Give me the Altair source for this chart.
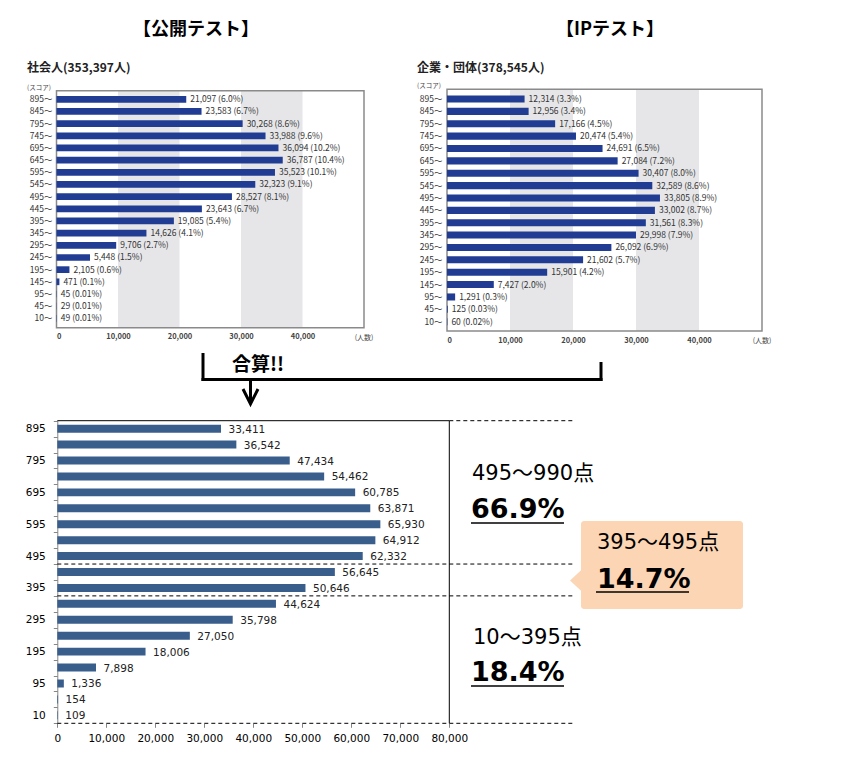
import json
import altair as alt
import pandas as pd

W, H = 830, 742


def px(v):
    # page pixel -> chart pixel (page has an 8px margin)
    return v - 8


JP = "Noto Sans CJK JP"
NUM = "DejaVu Sans"
ANN = "DejaVu Sans, Noto Sans CJK JP"

# ---------------- data ----------------
scores = ["895", "845", "795", "745", "695", "645", "595", "545", "495", "445",
          "395", "345", "295", "245", "195", "145", "95", "45", "10"]
koukai_counts = [21097, 23583, 30268, 33988, 36094, 36787, 35523, 32323, 28527, 23643,
                 19085, 14626, 9706, 5448, 2105, 471, 45, 29, 49]
koukai_pct = ["6.0%", "6.7%", "8.6%", "9.6%", "10.2%", "10.4%", "10.1%", "9.1%", "8.1%", "6.7%",
              "5.4%", "4.1%", "2.7%", "1.5%", "0.6%", "0.1%", "0.01%", "0.01%", "0.01%"]
ip_counts = [12314, 12956, 17166, 20474, 24691, 27084, 30407, 32589, 33805, 33002,
             31561, 29998, 26092, 21602, 15901, 7427, 1291, 125, 60]
ip_pct = ["3.3%", "3.4%", "4.5%", "5.4%", "6.5%", "7.2%", "8.0%", "8.6%", "8.9%", "8.7%",
          "8.3%", "7.9%", "6.9%", "5.7%", "4.2%", "2.0%", "0.3%", "0.03%", "0.02%"]
total_counts = [33411, 36542, 47434, 54462, 60785, 63871, 65930, 64912, 62332, 56645,
                50646, 44624, 35798, 27050, 18006, 7898, 1336, 154, 109]

headers = ["【公開テスト】", "【IPテスト】"]
subtitles = ["社会人(353,397人)", "企業・団体(378,545人)"]
score_unit = "(スコア)"
count_unit = "(人数)"
top_domain = [0, 50000]
top_ticks = [0, 10000, 20000, 30000, 40000]
shade_start = [10000, 30000]
shade_end = [20000, 40000]
bottom_domain = [0, 80000]
bottom_ticks = [0, 10000, 20000, 30000, 40000, 50000, 60000, 70000, 80000]
bottom_shown = scores[::2]
group_labels = ["495〜990点", "395〜495点", "10〜395点"]
group_pcts = ["66.9%", "14.7%", "18.4%"]
group_edges = ["495", "395", "10"]
merge_label = "合算!!"

TOP_BAR = "#203c93"
BOTTOM_BAR = "#3a5e8c"
SHADE = "#e6e6e9"
PEACH = "#fbd5b4"


def one(value="x"):
    return pd.DataFrame({"t": [value]})


def text_at(txt, x, y, **kw):
    return alt.Chart(one(txt)).mark_text(**kw).encode(
        x=alt.value(px(x)), y=alt.value(px(y)), text="t:N")


def hrule(x0, x1, y, **kw):
    return alt.Chart(one()).mark_rule(**kw).encode(
        x=alt.value(px(x0)), x2=alt.value(px(x1)), y=alt.value(px(y)))


def vrule(x, y0, y1, **kw):
    return alt.Chart(one()).mark_rule(**kw).encode(
        x=alt.value(px(x)), y=alt.value(px(y0)), y2=alt.value(px(y1)))


# ---------------- top panels ----------------
def top_panel(counts, pcts, header, subtitle, header_cx, sub_x, x0, x1,
              fy0, fy1, by0, by1, pin, lab_pad, unit_y):
    xs = alt.Scale(domain=top_domain, range=[px(x0), px(x1)], nice=False)
    ys = alt.Scale(domain=scores, range=[px(by0), px(by1)],
                   paddingInner=pin, paddingOuter=pin / 2)
    df = pd.DataFrame({
        "score": scores,
        "n": counts,
        "label": [f"{c:,} ({p})" for c, p in zip(counts, pcts)],
    })
    shade_df = pd.DataFrame({"s": shade_start, "e": shade_end})
    shades = alt.Chart(shade_df).mark_rect(color=SHADE).encode(
        x=alt.X("s:Q", scale=xs, axis=None), x2="e:Q",
        y=alt.value(px(fy0)), y2=alt.value(px(fy1)))
    frame = alt.Chart(one()).mark_rect(fillOpacity=0, stroke="#8a8a8a", strokeWidth=1.5).encode(
        x=alt.XDatum(top_domain[0], scale=xs, axis=None),
        x2=alt.X2Datum(top_domain[1]),
        y=alt.value(px(fy0)), y2=alt.value(px(fy1)))
    bars = alt.Chart(df).mark_bar(color=TOP_BAR).encode(
        x=alt.X("n:Q", scale=xs, axis=alt.Axis(
            orient="bottom", values=top_ticks, format=",d", domain=False, ticks=False,
            grid=False, labelFont=JP, labelFontSize=7.5, labelFontWeight="bold",
            labelColor="#444", labelPadding=5, labelOverlap=False,
            offset=px(fy1) - H, title=None)),
        y=alt.Y("score:N", scale=ys, axis=alt.Axis(
            orient="left", domain=False, ticks=False, grid=False,
            labelExpr="datum.label + '〜'", labelFont=JP, labelFontSize=8.5,
            labelColor="#333", labelPadding=lab_pad, labelOverlap=False,
            offset=-px(x0), title=None)))
    labels = alt.Chart(df).mark_text(
        align="left", baseline="middle", dx=4, font=JP, fontSize=8.5, color="#333").encode(
        x=alt.X("n:Q", scale=xs, axis=None),
        y=alt.Y("score:N", scale=ys, axis=None),
        text="label:N")
    head = text_at(header, header_cx, 30, font=JP, fontSize=18, fontWeight="bold",
                   align="center", baseline="middle", color="black")
    sub = text_at(subtitle, sub_x, 68, font=JP, fontSize=12, fontWeight="bold",
                  align="left", baseline="middle", color="#222")
    sc = text_at(score_unit, sub_x, unit_y, font=JP, fontSize=6.5,
                 align="left", baseline="middle", color="#444")
    cu = text_at(count_unit, x1, fy1 + 10, font=JP, fontSize=7,
                 align="center", baseline="middle", color="#444")
    return [shades, frame, bars, labels, head, sub, sc, cu]


tl = top_panel(koukai_counts, koukai_pct, headers[0], subtitles[0], 196, 27,
               56.5, 364, 90.7, 327.7, 93.2, 324.4, 0.45, 4.5, 88)
tr = top_panel(ip_counts, ip_pct, headers[1], subtitles[1], 610, 417,
               447, 762, 89.3, 331, 92.8, 327.9, 0.43, 5, 86)

# ---------------- connector ----------------
LW = 3
connector = [
    vrule(203, 353, 381, strokeWidth=LW, color="black"),
    hrule(201.5, 602.5, 379.5, strokeWidth=LW, color="black"),
    vrule(601, 362, 381, strokeWidth=LW, color="black"),
    vrule(250.5, 379, 403, strokeWidth=LW, color="black"),
    alt.Chart(one()).mark_point(shape="M-1,-2L0,0L1,-2", filled=False, size=225,
                                strokeWidth=LW, color="black", opacity=1).encode(
        x=alt.value(px(250.5)), y=alt.value(px(404))),
    text_at(merge_label, 258, 365, font=JP, fontSize=19, fontWeight="bold",
            align="center", baseline="middle", color="black"),
]

# ---------------- bottom chart ----------------
BX0, BX1, BY0, BY1 = 57.3, 449.3, 420.7, 723.3
xs_b = alt.Scale(domain=bottom_domain, range=[px(BX0), px(BX1)], nice=False)
ys_b = alt.Scale(domain=scores, range=[px(BY0), px(BY1)], paddingInner=0.5, paddingOuter=0.25)
ys_b0 = alt.Scale(domain=scores, range=[px(BY0), px(BY1)], paddingInner=0, paddingOuter=0)

bdf = pd.DataFrame({"score": scores, "n": total_counts,
                    "label": [f"{c:,}" for c in total_counts]})

b_bars = alt.Chart(bdf).mark_bar(color=BOTTOM_BAR).encode(
    x=alt.X("n:Q", scale=xs_b, axis=alt.Axis(
        orient="bottom", values=bottom_ticks, format=",d", domain=False, ticks=True,
        tickColor="#868686", tickSize=4, grid=False, labelFont=NUM, labelFontSize=10.5,
        labelColor="black", labelPadding=6, labelOverlap=False, labelFlush=False,
        offset=px(BY1) - H, title=None)),
    y=alt.Y("score:N", scale=ys_b, axis=None))

b_labels = alt.Chart(bdf).mark_text(
    align="left", baseline="middle", dx=7.5, dy=1, font=NUM, fontSize=10.5, color="#222").encode(
    x=alt.X("n:Q", scale=xs_b, axis=None),
    y=alt.Y("score:N", scale=ys_b, axis=None),
    text="label:N")

shown_expr = f"indexof({json.dumps(bottom_shown)}, datum.value) >= 0 ? datum.label : ''"
b_edges = alt.Chart(pd.DataFrame({"score": group_edges})).mark_rule(
    color="black", strokeWidth=1, strokeDash=[4, 3]).encode(
    y=alt.Y("score:N", scale=ys_b0, bandPosition=1, axis=alt.Axis(
        orient="left", tickBand="extent", domain=True, domainColor="#868686",
        ticks=True, tickColor="#868686", tickSize=4, grid=False,
        labelExpr=shown_expr, labelFont=NUM, labelFontSize=10.5, labelColor="black",
        labelPadding=8, labelOverlap=False, offset=-px(BX0), title=None)),
    x=alt.value(px(BX0)), x2=alt.value(px(573)))

b_top_dash = alt.Chart(pd.DataFrame({"score": [scores[0]]})).mark_rule(
    color="black", strokeWidth=1, strokeDash=[4, 3]).encode(
    y=alt.Y("score:N", scale=ys_b0, bandPosition=0, axis=None),
    x=alt.value(px(BX1)), x2=alt.value(px(573)))

b_top_line = alt.Chart(one()).mark_rule(color="black", strokeWidth=1).encode(
    x=alt.XDatum(bottom_domain[0], scale=xs_b, axis=None),
    x2=alt.X2Datum(bottom_domain[1]),
    y=alt.value(px(BY0)))
b_right_line = alt.Chart(one()).mark_rule(color="black", strokeWidth=1).encode(
    x=alt.XDatum(bottom_domain[1], scale=xs_b, axis=None),
    y=alt.value(px(BY0)), y2=alt.value(px(BY1)))

# ---------------- annotations ----------------
callout_box = alt.Chart(one()).mark_rect(color=PEACH, cornerRadius=3).encode(
    x=alt.value(px(581)), x2=alt.value(px(743)),
    y=alt.value(px(521)), y2=alt.value(px(609)))
callout_tip = alt.Chart(one()).mark_point(
    shape="M0.2,-1L-0.88,0L0.2,1Z", filled=True, size=625, color=PEACH,
    opacity=1, strokeWidth=0).encode(x=alt.value(px(581)), y=alt.value(px(580.5)))

ann = [callout_box, callout_tip]
ann_pos = [  # (label x, label y, pct x, pct y, underline x0, x1, y)
    (472, 474, 471, 510, 471, 564, 523),
    (597, 543, 597, 580, 596, 689, 592),
    (473, 638, 471, 673, 471, 564, 686),
]
for lab, pct, (lx, ly, px_, py_, ux0, ux1, uy) in zip(group_labels, group_pcts, ann_pos):
    ann.append(text_at(lab, lx, ly, font=ANN, fontSize=21, align="left",
                       baseline="middle", color="black"))
    ann.append(text_at(pct, px_, py_, font=ANN, fontSize=27, fontWeight="bold",
                       align="left", baseline="middle", color="black"))
    ann.append(hrule(ux0, ux1, uy, strokeWidth=1.5, color="black"))

layers = tl + tr + connector + [b_bars, b_labels, b_top_line, b_right_line,
                                b_edges, b_top_dash] + ann

chart = alt.layer(*layers).resolve_scale(
    x="independent", y="independent"
).properties(
    width=W, height=H, padding=0,
    autosize=alt.AutoSizeParams(type="none"),
).configure_view(strokeWidth=0)

chart.save("out.html", embed_options={"renderer": "svg", "actions": False})
